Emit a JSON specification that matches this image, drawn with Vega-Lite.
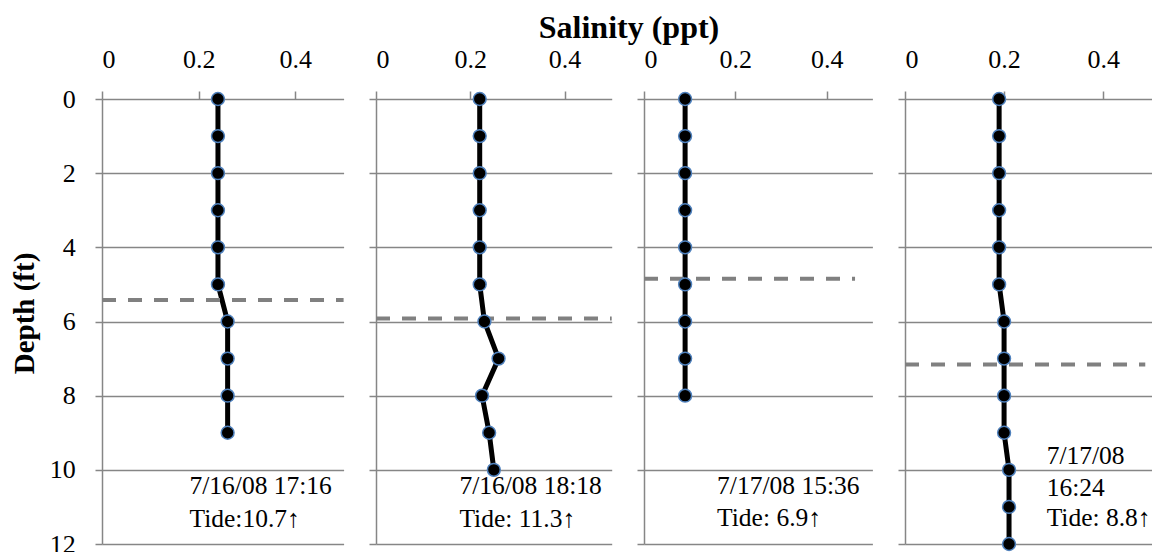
{
  "$schema": "https://vega.github.io/schema/vega-lite/v6.json",
  "padding": {"left": 10, "top": 11, "right": 0, "bottom": 0},
  "background": "white",
  "bounds": "flush",
  "spacing": 32,
  "config": {
    "view": {"stroke": null},
    "font": "Liberation Serif",
    "text": {"font": "Liberation Serif"},
    "axis": {
      "labelFont": "Liberation Serif",
      "labelFontSize": 26,
      "labelColor": "black",
      "titleFont": "Liberation Serif",
      "titleColor": "black",
      "domainColor": "#868686",
      "domainWidth": 1.5,
      "tickColor": "#868686",
      "tickWidth": 1.5,
      "gridColor": "#868686",
      "gridWidth": 1.5,
      "gridOpacity": 1
    }
  },
  "datasets": {
    "profiles": [
      {"cast": 1, "depth": 0, "salinity": 0.24},
      {"cast": 1, "depth": 1, "salinity": 0.24},
      {"cast": 1, "depth": 2, "salinity": 0.24},
      {"cast": 1, "depth": 3, "salinity": 0.24},
      {"cast": 1, "depth": 4, "salinity": 0.24},
      {"cast": 1, "depth": 5, "salinity": 0.24},
      {"cast": 1, "depth": 6, "salinity": 0.26},
      {"cast": 1, "depth": 7, "salinity": 0.26},
      {"cast": 1, "depth": 8, "salinity": 0.26},
      {"cast": 1, "depth": 9, "salinity": 0.26},
      {"cast": 2, "depth": 0, "salinity": 0.22},
      {"cast": 2, "depth": 1, "salinity": 0.22},
      {"cast": 2, "depth": 2, "salinity": 0.22},
      {"cast": 2, "depth": 3, "salinity": 0.22},
      {"cast": 2, "depth": 4, "salinity": 0.22},
      {"cast": 2, "depth": 5, "salinity": 0.22},
      {"cast": 2, "depth": 6, "salinity": 0.23},
      {"cast": 2, "depth": 7, "salinity": 0.26},
      {"cast": 2, "depth": 8, "salinity": 0.225},
      {"cast": 2, "depth": 9, "salinity": 0.24},
      {"cast": 2, "depth": 10, "salinity": 0.25},
      {"cast": 3, "depth": 0, "salinity": 0.09},
      {"cast": 3, "depth": 1, "salinity": 0.09},
      {"cast": 3, "depth": 2, "salinity": 0.09},
      {"cast": 3, "depth": 3, "salinity": 0.09},
      {"cast": 3, "depth": 4, "salinity": 0.09},
      {"cast": 3, "depth": 5, "salinity": 0.09},
      {"cast": 3, "depth": 6, "salinity": 0.09},
      {"cast": 3, "depth": 7, "salinity": 0.09},
      {"cast": 3, "depth": 8, "salinity": 0.09},
      {"cast": 4, "depth": 0, "salinity": 0.19},
      {"cast": 4, "depth": 1, "salinity": 0.19},
      {"cast": 4, "depth": 2, "salinity": 0.19},
      {"cast": 4, "depth": 3, "salinity": 0.19},
      {"cast": 4, "depth": 4, "salinity": 0.19},
      {"cast": 4, "depth": 5, "salinity": 0.19},
      {"cast": 4, "depth": 6, "salinity": 0.2},
      {"cast": 4, "depth": 7, "salinity": 0.2},
      {"cast": 4, "depth": 8, "salinity": 0.2},
      {"cast": 4, "depth": 9, "salinity": 0.2},
      {"cast": 4, "depth": 10, "salinity": 0.21},
      {"cast": 4, "depth": 11, "salinity": 0.21},
      {"cast": 4, "depth": 12, "salinity": 0.21}
    ],
    "interface": [
      {"cast": 1, "depth": 5.42, "from": 0, "to": 0.5},
      {"cast": 2, "depth": 5.92, "from": 0, "to": 0.5},
      {"cast": 3, "depth": 4.85, "from": 0, "to": 0.462},
      {"cast": 4, "depth": 7.16, "from": 0, "to": 0.485}
    ],
    "notes": [
      {"cast": 1, "depth": 10.66, "salinity": 0.181, "text": "7/16/08 17:16"},
      {"cast": 1, "depth": 11.54, "salinity": 0.181, "text": "Tide:10.7↑"},
      {"cast": 2, "depth": 10.66, "salinity": 0.177, "text": "7/16/08 18:18"},
      {"cast": 2, "depth": 11.54, "salinity": 0.177, "text": "Tide: 11.3↑"},
      {"cast": 3, "depth": 10.64, "salinity": 0.16, "text": "7/17/08 15:36"},
      {"cast": 3, "depth": 11.52, "salinity": 0.16, "text": "Tide: 6.9↑"},
      {"cast": 4, "depth": 9.83, "salinity": 0.286, "text": "7/17/08"},
      {"cast": 4, "depth": 10.7, "salinity": 0.286, "text": "16:24"},
      {"cast": 4, "depth": 11.52, "salinity": 0.286, "text": "Tide: 8.8↑"}
    ]
  },
  "hconcat": [
    {
      "width": 241.6,
      "height": 445,
      "layer": [
        {
          "data": {"name": "profiles"},
          "transform": [{"filter": "datum.cast == 1"}],
          "mark": {"type": "line", "color": "black", "strokeWidth": 5},
          "encoding": {
            "x": {"field": "salinity", "type": "quantitative", "scale": {"domain": [0, 0.5], "nice": false},
              "axis": {"orient": "top", "values": [0, 0.2, 0.4], "format": "~g", "grid": false, "domain": false, "tickSize": 8, "labelPadding": 24, "labelBaseline": "alphabetic", "title": null}},
            "y": {"field": "depth", "type": "quantitative", "scale": {"domain": [0, 12], "reverse": true, "nice": false},
              "axis": {"values": [0, 2, 4, 6, 8, 10, 12], "tickSize": 7, "labelPadding": 19.7, "title": "Depth (ft)", "titleFontSize": 29, "titleFontWeight": "bold", "titleAngle": -90, "titleX": -68.4, "titleY": 214, "titleAlign": "center", "titleBaseline": "alphabetic"}},
            "order": {"field": "depth", "type": "quantitative"}
          }
        },
        {
          "data": {"name": "interface"},
          "transform": [{"filter": "datum.cast == 1"}],
          "mark": {"type": "rule", "color": "#808080", "strokeWidth": 4, "strokeDash": [14, 12]},
          "encoding": {
            "x": {"field": "from", "type": "quantitative"},
            "x2": {"field": "to"},
            "y": {"field": "depth", "type": "quantitative"}
          }
        },
        {
          "data": {"name": "profiles"},
          "transform": [{"filter": "datum.cast == 1"}],
          "mark": {"type": "point", "shape": "circle", "filled": true, "fill": "black", "stroke": "#4F81BD", "strokeWidth": 1.5, "size": 165, "opacity": 1},
          "encoding": {
            "x": {"field": "salinity", "type": "quantitative"},
            "y": {"field": "depth", "type": "quantitative"}
          }
        },
        {
          "data": {"name": "notes"},
          "transform": [{"filter": "datum.cast == 1"}],
          "mark": {"type": "text", "align": "left", "baseline": "alphabetic", "font": "Liberation Serif", "fontSize": 25.5, "color": "black"},
          "encoding": {
            "x": {"field": "salinity", "type": "quantitative"},
            "y": {"field": "depth", "type": "quantitative"},
            "text": {"field": "text"}
          }
        }
      ]
    },
    {
      "width": 235.7,
      "height": 445,
      "layer": [
        {
          "data": {"name": "profiles"},
          "transform": [{"filter": "datum.cast == 2"}],
          "mark": {"type": "line", "color": "black", "strokeWidth": 5},
          "encoding": {
            "x": {"field": "salinity", "type": "quantitative", "scale": {"domain": [0, 0.5], "nice": false},
              "axis": {"orient": "top", "values": [0, 0.2, 0.4], "format": "~g", "grid": false, "domain": false, "tickSize": 8, "labelPadding": 24, "labelBaseline": "alphabetic", "title": "Salinity (ppt)", "titleFontSize": 32, "titleFontWeight": "bold", "titleX": 252.5, "titleY": -61.6, "titleAlign": "center", "titleBaseline": "alphabetic"}},
            "y": {"field": "depth", "type": "quantitative", "scale": {"domain": [0, 12], "reverse": true, "nice": false},
              "axis": {"values": [0, 2, 4, 6, 8, 10, 12], "tickSize": 7, "labels": false, "title": null}},
            "order": {"field": "depth", "type": "quantitative"}
          }
        },
        {
          "data": {"name": "interface"},
          "transform": [{"filter": "datum.cast == 2"}],
          "mark": {"type": "rule", "color": "#808080", "strokeWidth": 4, "strokeDash": [14, 12]},
          "encoding": {
            "x": {"field": "from", "type": "quantitative"},
            "x2": {"field": "to"},
            "y": {"field": "depth", "type": "quantitative"}
          }
        },
        {
          "data": {"name": "profiles"},
          "transform": [{"filter": "datum.cast == 2"}],
          "mark": {"type": "point", "shape": "circle", "filled": true, "fill": "black", "stroke": "#4F81BD", "strokeWidth": 1.5, "size": 165, "opacity": 1},
          "encoding": {
            "x": {"field": "salinity", "type": "quantitative"},
            "y": {"field": "depth", "type": "quantitative"}
          }
        },
        {
          "data": {"name": "notes"},
          "transform": [{"filter": "datum.cast == 2"}],
          "mark": {"type": "text", "align": "left", "baseline": "alphabetic", "font": "Liberation Serif", "fontSize": 25.5, "color": "black"},
          "encoding": {
            "x": {"field": "salinity", "type": "quantitative"},
            "y": {"field": "depth", "type": "quantitative"},
            "text": {"field": "text"}
          }
        }
      ]
    },
    {
      "width": 228.4,
      "height": 445,
      "layer": [
        {
          "data": {"name": "profiles"},
          "transform": [{"filter": "datum.cast == 3"}],
          "mark": {"type": "line", "color": "black", "strokeWidth": 5},
          "encoding": {
            "x": {"field": "salinity", "type": "quantitative", "scale": {"domain": [0, 0.5], "nice": false},
              "axis": {"orient": "top", "values": [0, 0.2, 0.4], "format": "~g", "grid": false, "domain": false, "tickSize": 8, "labelPadding": 24, "labelBaseline": "alphabetic", "title": null}},
            "y": {"field": "depth", "type": "quantitative", "scale": {"domain": [0, 12], "reverse": true, "nice": false},
              "axis": {"values": [0, 2, 4, 6, 8, 10, 12], "tickSize": 7, "labels": false, "title": null}},
            "order": {"field": "depth", "type": "quantitative"}
          }
        },
        {
          "data": {"name": "interface"},
          "transform": [{"filter": "datum.cast == 3"}],
          "mark": {"type": "rule", "color": "#808080", "strokeWidth": 4, "strokeDash": [14, 12]},
          "encoding": {
            "x": {"field": "from", "type": "quantitative"},
            "x2": {"field": "to"},
            "y": {"field": "depth", "type": "quantitative"}
          }
        },
        {
          "data": {"name": "profiles"},
          "transform": [{"filter": "datum.cast == 3"}],
          "mark": {"type": "point", "shape": "circle", "filled": true, "fill": "black", "stroke": "#4F81BD", "strokeWidth": 1.5, "size": 165, "opacity": 1},
          "encoding": {
            "x": {"field": "salinity", "type": "quantitative"},
            "y": {"field": "depth", "type": "quantitative"}
          }
        },
        {
          "data": {"name": "notes"},
          "transform": [{"filter": "datum.cast == 3"}],
          "mark": {"type": "text", "align": "left", "baseline": "alphabetic", "font": "Liberation Serif", "fontSize": 25.5, "color": "black"},
          "encoding": {
            "x": {"field": "salinity", "type": "quantitative"},
            "y": {"field": "depth", "type": "quantitative"},
            "text": {"field": "text"}
          }
        }
      ]
    },
    {
      "width": 247.7,
      "height": 445,
      "layer": [
        {
          "data": {"name": "profiles"},
          "transform": [{"filter": "datum.cast == 4"}],
          "mark": {"type": "line", "color": "black", "strokeWidth": 5},
          "encoding": {
            "x": {"field": "salinity", "type": "quantitative", "scale": {"domain": [0, 0.5], "nice": false},
              "axis": {"orient": "top", "values": [0, 0.2, 0.4], "format": "~g", "grid": false, "domain": false, "tickSize": 8, "labelPadding": 24, "labelBaseline": "alphabetic", "title": null}},
            "y": {"field": "depth", "type": "quantitative", "scale": {"domain": [0, 12], "reverse": true, "nice": false},
              "axis": {"values": [0, 2, 4, 6, 8, 10, 12], "tickSize": 7, "labels": false, "title": null}},
            "order": {"field": "depth", "type": "quantitative"}
          }
        },
        {
          "data": {"name": "interface"},
          "transform": [{"filter": "datum.cast == 4"}],
          "mark": {"type": "rule", "color": "#808080", "strokeWidth": 4, "strokeDash": [14, 12]},
          "encoding": {
            "x": {"field": "from", "type": "quantitative"},
            "x2": {"field": "to"},
            "y": {"field": "depth", "type": "quantitative"}
          }
        },
        {
          "data": {"name": "profiles"},
          "transform": [{"filter": "datum.cast == 4"}],
          "mark": {"type": "point", "shape": "circle", "filled": true, "fill": "black", "stroke": "#4F81BD", "strokeWidth": 1.5, "size": 165, "opacity": 1},
          "encoding": {
            "x": {"field": "salinity", "type": "quantitative"},
            "y": {"field": "depth", "type": "quantitative"}
          }
        },
        {
          "data": {"name": "notes"},
          "transform": [{"filter": "datum.cast == 4"}],
          "mark": {"type": "text", "align": "left", "baseline": "alphabetic", "font": "Liberation Serif", "fontSize": 25.5, "color": "black"},
          "encoding": {
            "x": {"field": "salinity", "type": "quantitative"},
            "y": {"field": "depth", "type": "quantitative"},
            "text": {"field": "text"}
          }
        }
      ]
    }
  ]
}
